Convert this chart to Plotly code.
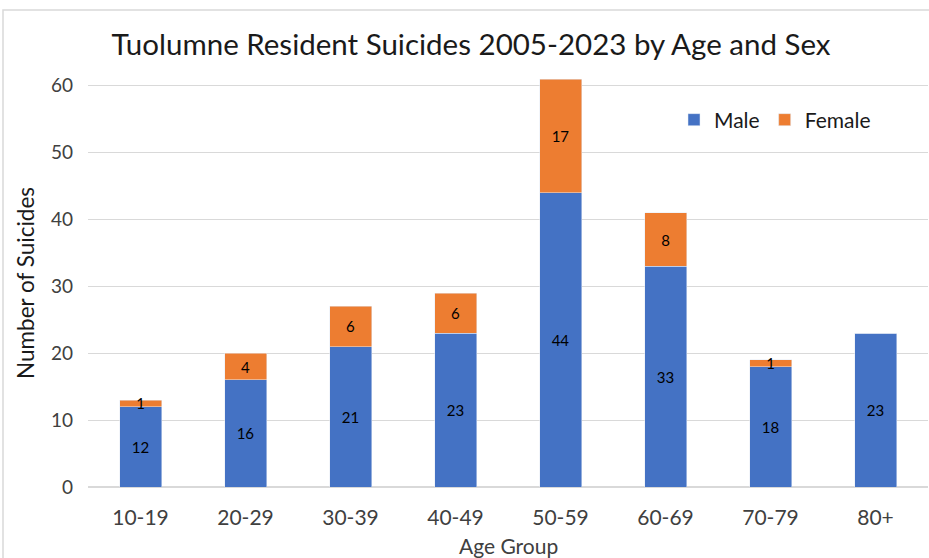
import plotly.graph_objects as go

age_groups = ["10-19", "20-29", "30-39", "40-49", "50-59", "60-69", "70-79", "80+"]
male = [12, 16, 21, 23, 44, 33, 18, 23]
female = [1, 4, 6, 6, 17, 8, 1, 0]

W, H = 929, 558
ML, MR, MT, MB = 88, 1, 79, 71
PW, PH = W - ML - MR, H - MT - MB

def px(x):
    return (x - ML) / PW

def py(y):
    return (H - MB - y) / PH

FONT = "Lato, 'Open Sans', sans-serif"

fig = go.Figure()
fig.add_trace(go.Bar(
    x=age_groups, y=male, name="Male", marker_color="#4472C4",
    text=[str(v) if v else "" for v in male], textposition="inside",
    insidetextanchor="middle", textangle=0,
    textfont=dict(color="#000000", size=15, family=FONT),
))
fig.add_trace(go.Bar(
    x=age_groups, y=female, name="Female", marker_color="#ED7D31",
    text=[str(v) if v else "" for v in female], textposition="inside",
    insidetextanchor="middle", textangle=0,
    textfont=dict(color="#000000", size=15, family=FONT),
))

fig.update_layout(
    width=W, height=H, barmode="stack", bargap=0.6,
    margin=dict(l=ML, r=MR, t=MT, b=MB),
    paper_bgcolor="white", plot_bgcolor="white",
    font=dict(family=FONT, color="#404040"),
    uniformtext=dict(mode="show", minsize=15),
    showlegend=True,
    legend=dict(orientation="h", x=px(674), y=py(120), xanchor="left", yanchor="middle",
                font=dict(size=21, color="#1a1a1a", family=FONT), bgcolor="rgba(0,0,0,0)",
                itemwidth=30, traceorder="normal"),
    title=dict(text="Tuolumne Resident Suicides 2005-2023 by Age and Sex",
               x=471 / W, y=1 - 45 / H, xref="container", yref="container",
               xanchor="center", yanchor="middle",
               font=dict(size=29.5, color="#1a1a1a", family=FONT)),
)
fig.update_xaxes(showgrid=False, showline=True, linecolor="#d9d9d9", linewidth=1,
                 ticks="", tickfont=dict(size=21, color="#404040"), ticklabelstandoff=12)
fig.update_yaxes(range=[0, 61], dtick=10, showgrid=True, gridcolor="#d9d9d9",
                 zeroline=True, zerolinecolor="#d9d9d9", showline=False, ticks="",
                 tickfont=dict(size=19, color="#404040"), ticklabelstandoff=14)

fig.add_annotation(text="Age Group", xref="paper", yref="paper", x=px(508), y=py(545),
                   showarrow=False, font=dict(size=21, color="#404040", family=FONT),
                   xanchor="center", yanchor="middle")
fig.add_annotation(text="Number of Suicides", xref="paper", yref="paper", x=px(25), y=py(283),
                   showarrow=False, textangle=-90, font=dict(size=22.5, color="#1a1a1a", family=FONT),
                   xanchor="center", yanchor="middle")

fig.add_shape(type="rect", xref="paper", yref="paper",
              x0=px(3), x1=px(945), y0=py(580), y1=py(10),
              line=dict(color="#d9d9d9", width=1.5), layer="below")

fig.write_html("out.html")
